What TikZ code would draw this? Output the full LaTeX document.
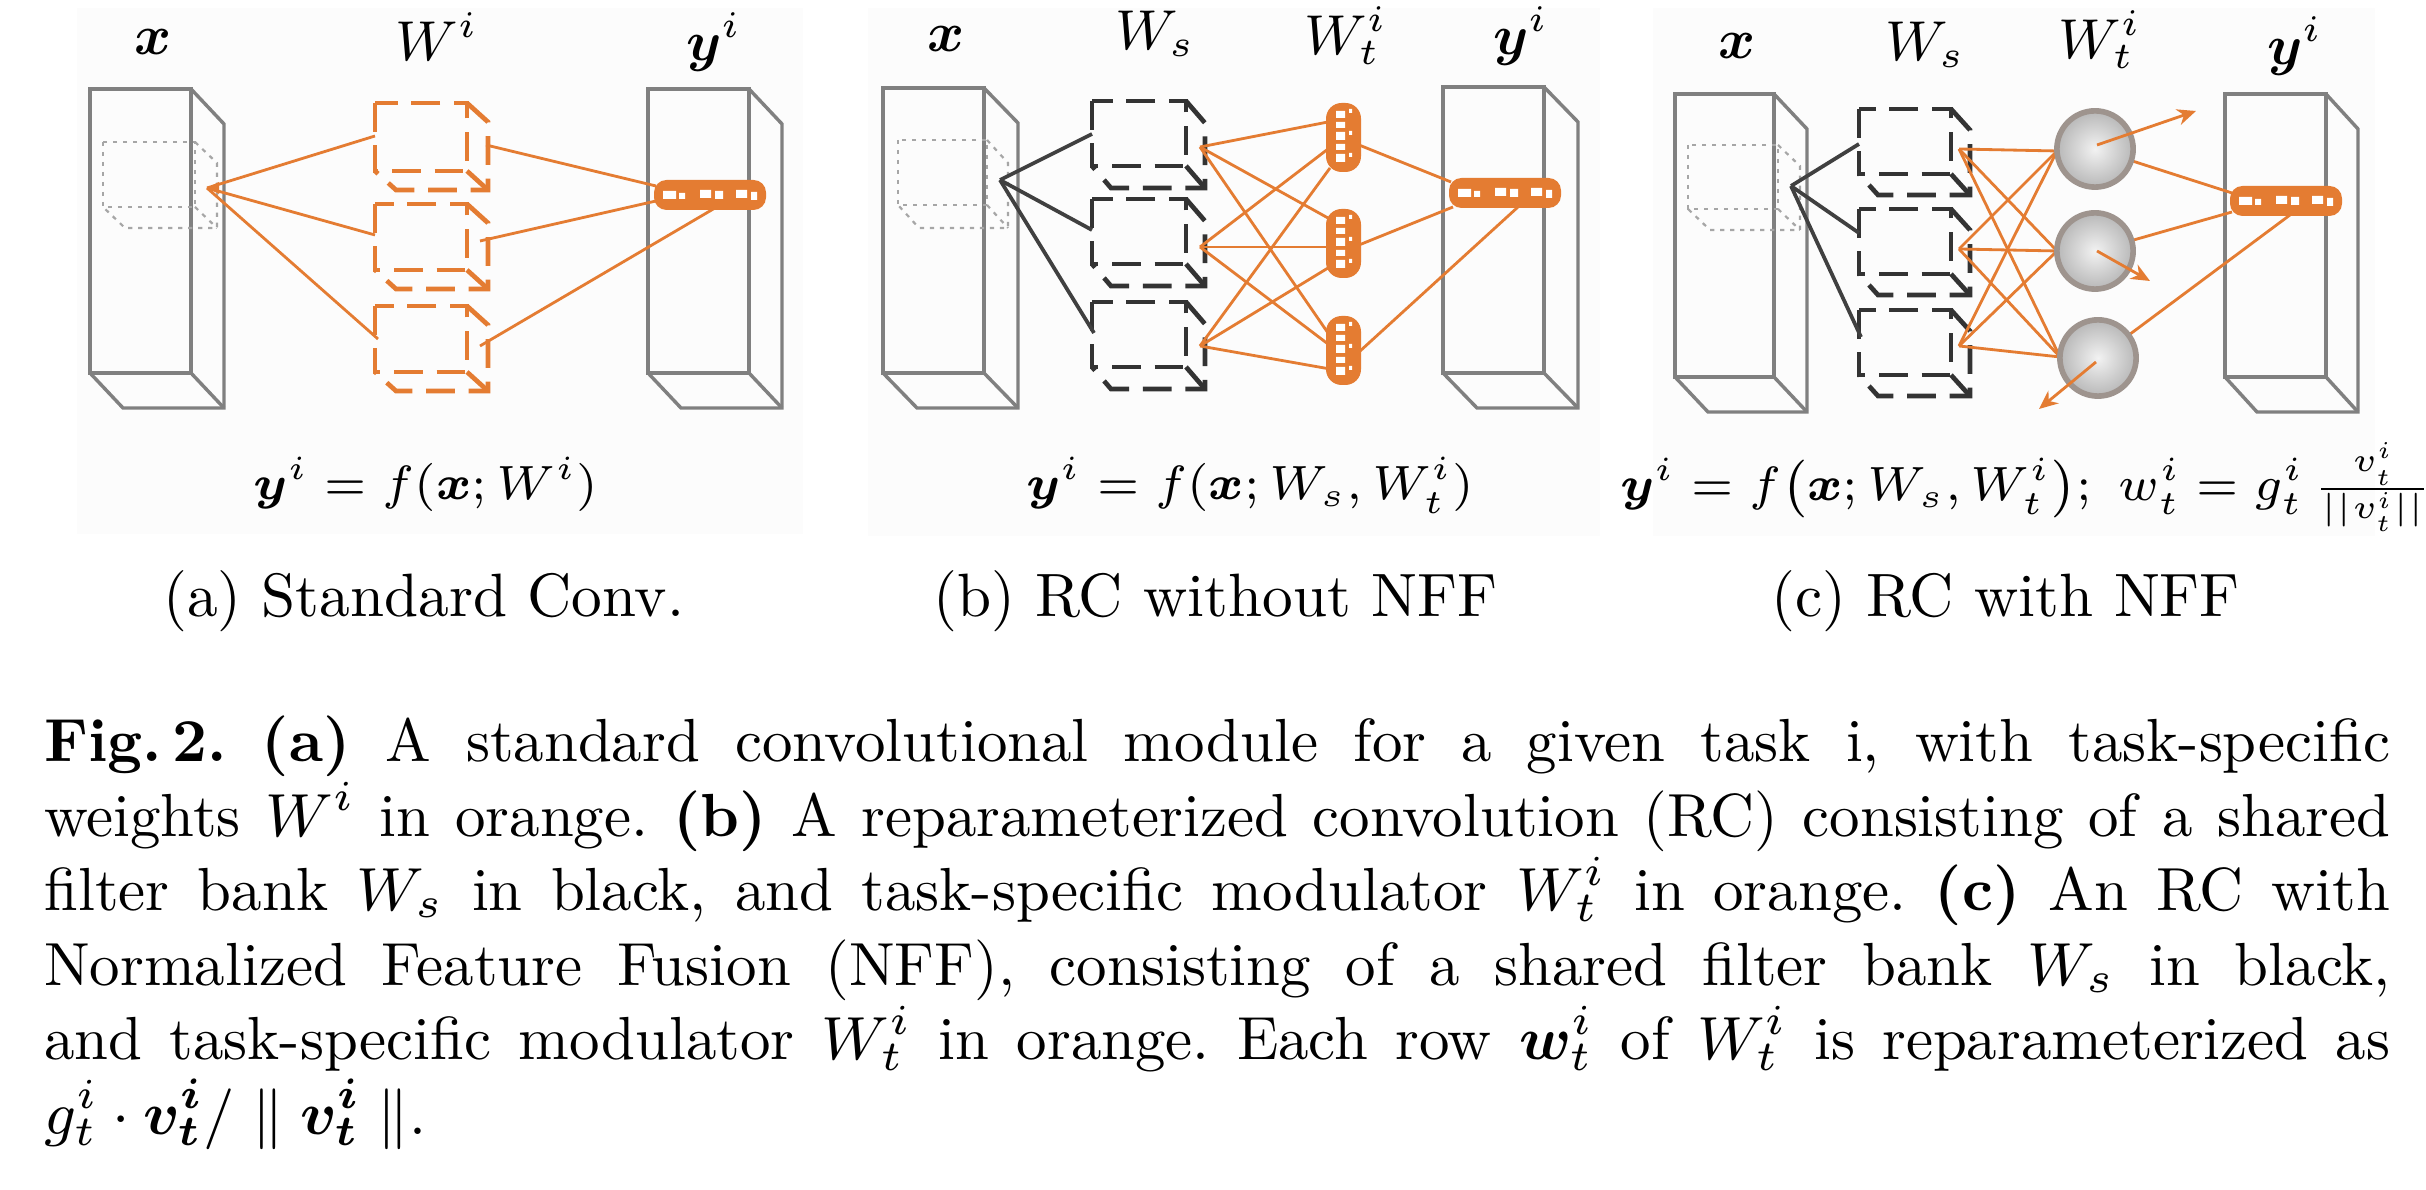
\RequirePackage{fix-cm}
\documentclass[tikz,border=0pt]{standalone}
\usepackage{amsmath}
\usepackage{bm}
\usetikzlibrary{arrows.meta}
\definecolor{ornge}{RGB}{228,124,50}
\definecolor{circedge}{RGB}{158,148,142}
\newcommand{\prismbox}[7]{%
  \draw[#1] (#2,#3) rectangle ++(#4,#5);
  \draw[#1] (#2,#3) ++(#4,0) -- ++(#6,#7) -- ++(0,#5) -- ++(-#4,0) -- ++(-#6,-#7);
  \draw[#1] (#2,#3) ++(#4,#5) -- ++(#6,#7);
}
\newcommand{\capline}[1]{\makebox[375.4pt][s]{\frenchspacing #1}}
\tikzset{
  hstrip/.pic={
    \fill[ornge, rounded corners=2pt] (0,0) rectangle (112,30);
    \fill[white] (9,11) rectangle (22,19) (25,13) rectangle (31,19)
                 (46,10) rectangle (57,18) (61,11) rectangle (69,19)
                 (82,10) rectangle (93,18) (97,12) rectangle (103,20);
  },
  vbar/.pic={
    \fill[ornge, rounded corners=2.5pt] (0,0) rectangle (35,69);
    \fill[white] (10,8) rectangle (19,15) (10,19) rectangle (19,25)
                 (10,29) rectangle (19,37) (10,41) rectangle (19,47)
                 (10,51) rectangle (19,59) (23,6) rectangle (26,10)
                 (23,28) rectangle (26,32) (23,50) rectangle (26,54);
  }
}
\begin{document}
\begin{tikzpicture}[x=0.16pt,y=-0.16pt,
  bigbox/.style={draw=black!50, line width=0.55pt},
  dotcube/.style={draw=black!35, line width=0.35pt, dash pattern=on 0.7pt off 0.9pt},
  odash/.style={draw=ornge, line width=0.75pt, dash pattern=on 4.6pt off 2.2pt},
  kdash/.style={draw=black!80, line width=0.75pt, dash pattern=on 4.6pt off 2.2pt},
  oline/.style={draw=ornge, line width=0.45pt},
  kline/.style={draw=black!75, line width=0.6pt},
  oarrow/.style={draw=ornge, line width=0.45pt, -{Stealth[length=3pt,width=2.6pt]}},
  circ/.style={circle, minimum size=12.2pt, inner sep=0pt, draw=circedge, line width=0.9pt,
     shading=radial, inner color=black!5, outer color=black!28},
  lab/.style={inner sep=0pt, anchor=base, font=\fontsize{9}{10}\selectfont},
  fml/.style={inner sep=0pt, anchor=base, font=\fontsize{7.7}{9}\selectfont},
  subcap/.style={inner sep=0pt, anchor=base west, font=\fontsize{9.8}{12}\selectfont},
  capl/.style={inner sep=0pt, anchor=base west}
]
\path[use as bounding box] (0,0) rectangle (2426,1190);
\fill[white] (0,0) rectangle (2426,1190);
% faint panel backgrounds
\fill[black!1.2] (77,8) rectangle (803,534);
\fill[black!1.2] (868,8) rectangle (1600,536);
\fill[black!1.2] (1653,8) rectangle (2375,536);

% ================= panel (a) =================
\prismbox{bigbox}{90}{89}{101}{284}{33}{35}
\prismbox{dotcube}{103}{142}{92}{65}{22}{21}
\prismbox{odash}{375}{103}{92}{68}{21}{19}
\prismbox{odash}{375}{204}{92}{66}{21}{19}
\prismbox{odash}{375}{306}{92}{66}{21}{19}
\prismbox{bigbox}{648}{89}{101}{284}{33}{35}
\coordinate (aA) at (207,188);
\coordinate (aW1i) at (375,136);
\coordinate (aW2i) at (375,235);
\coordinate (aW3i) at (378,339);
\coordinate (aW1o) at (486,145);
\coordinate (aW2o) at (480,241);
\coordinate (aW3o) at (480,346);
\coordinate (aS1) at (656,186);
\coordinate (aS2) at (656,201);
\coordinate (aS3) at (715,208);
\draw[oline] (aA) -- (aW1i);
\draw[oline] (aA) -- (aW2i);
\draw[oline] (aA) -- (aW3i);
\draw[oline] (aW1o) -- (aS1);
\draw[oline] (aW2o) -- (aS2);
\draw[oline] (aW3o) -- (aS3);
\fill[ornge] (aA) -- ++(12,-6) -- ++(0,12) -- cycle;
\pic at (654,180) {hstrip};
\node[lab] (ax) at (153,55) {$\bm{x}$};
\node[lab] (aW) at (437,61) {$W^i$};
\node[lab] (ay) at (714,61) {$\bm{y}^i$};
\node[fml] (af) at (426,500) {$\bm{y}^i = f(\bm{x}; W^i)$};

% ================= panel (b) =================
\prismbox{bigbox}{883}{88}{101}{285}{34}{35}
\prismbox{dotcube}{898}{140}{89}{65}{21}{23}
\prismbox{kdash}{1092}{101}{94}{65}{19}{22}
\prismbox{kdash}{1092}{199}{94}{65}{19}{22}
\prismbox{kdash}{1092}{302}{94}{65}{19}{22}
\prismbox{bigbox}{1443}{87}{101}{286}{34}{35}
\coordinate (bA) at (1000,180);
\coordinate (bW1i) at (1092,134);
\coordinate (bW2i) at (1092,230);
\coordinate (bW3i) at (1094,333);
\draw[kline] (bA) -- (bW1i);
\draw[kline] (bA) -- (bW2i);
\draw[kline] (bA) -- (bW3i);
\coordinate (bs1) at (1200,147);
\coordinate (bs2) at (1200,247);
\coordinate (bs3) at (1200,346);
\coordinate (bt11) at (1328,122);
\coordinate (bt21) at (1328,149);
\coordinate (bt31) at (1330,168);
\coordinate (bt12) at (1328,218);
\coordinate (bt22) at (1328,247);
\coordinate (bt32) at (1328,268);
\coordinate (bt13) at (1328,333);
\coordinate (bt23) at (1328,344);
\coordinate (bt33) at (1330,369);
\foreach \s in {1,2,3}{\foreach \t in {1,2,3}{\draw[oline] (bs\s) -- (bt\s\t);}}
\coordinate (bB1) at (1359,145);
\coordinate (bB2) at (1359,245);
\coordinate (bB3) at (1359,352);
\coordinate (bS1) at (1451,182);
\coordinate (bS2) at (1453,207);
\coordinate (bS3) at (1518,207);
\draw[oline] (bB1) -- (bS1);
\draw[oline] (bB2) -- (bS2);
\draw[oline] (bB3) -- (bS3);
\pic at (1326,103) {vbar};
\pic at (1326,209) {vbar};
\pic at (1326,316) {vbar};
\pic at (1449,178) {hstrip};
\node[lab] (bx) at (946,52) {$\bm{x}$};
\node[lab] (bWs) at (1155,50) {$W_s$};
\node[lab] (bWt) at (1346,55) {$W_t^i$};
\node[lab] (by) at (1521,55) {$\bm{y}^i$};
\node[fml] (bf) at (1250,500) {$\bm{y}^i = f(\bm{x}; W_s, W_t^i)$};

% ================= panel (c) =================
\prismbox{bigbox}{1675}{94}{99}{283}{33}{35}
\prismbox{dotcube}{1688}{145}{90}{64}{22}{21}
\prismbox{kdash}{1859}{109}{92}{65}{19}{21}
\prismbox{kdash}{1859}{209}{92}{65}{19}{21}
\prismbox{kdash}{1859}{310}{92}{65}{19}{21}
\prismbox{bigbox}{2225}{94}{101}{283}{32}{35}
\coordinate (cA) at (1791,186);
\coordinate (cW1i) at (1859,144);
\coordinate (cW2i) at (1859,233);
\coordinate (cW3i) at (1861,337);
\draw[kline] (cA) -- (cW1i);
\draw[kline] (cA) -- (cW2i);
\draw[kline] (cA) -- (cW3i);
\coordinate (cs1) at (1959,149);
\coordinate (cs2) at (1959,249);
\coordinate (cs3) at (1959,346);
\coordinate (cc1) at (2095,149);
\coordinate (cc2) at (2095,251);
\coordinate (cc3) at (2098,358);
\coordinate (ct1) at (2057,151);
\coordinate (ct2) at (2057,251);
\coordinate (ct3) at (2060,357);
\foreach \s in {1,2,3}{\foreach \t in {1,2,3}{\draw[oline] (cs\s) -- (ct\t);}}
\coordinate (cS1) at (2232,193);
\coordinate (cS2) at (2232,212);
\coordinate (cS3) at (2294,212);
\draw[oline] (cc1) -- (cS1);
\draw[oline] (cc2) -- (cS2);
\draw[oline] (cc3) -- (cS3);
\node[circ] (cn1) at (cc1) {};
\node[circ] (cn2) at (cc2) {};
\node[circ] (cn3) at (cc3) {};
\coordinate (cq1) at (2196,111);
\coordinate (cq2) at (2150,281);
\coordinate (cq3) at (2039,409);
\draw[oarrow] (2097,145) -- (cq1);
\draw[oarrow] (2097,251) -- (cq2);
\draw[oarrow] (2096,362) -- (cq3);
\pic at (2230,186) {hstrip};
\node[lab] (cx) at (1737,59) {$\bm{x}$};
\node[lab] (cWs) at (1925,61) {$W_s$};
\node[lab] (cWt) at (2100,59) {$W_t^i$};
\node[lab] (cy) at (2295,65) {$\bm{y}^i$};
\node[fml] (cf) at (2026,501) {$\bm{y}^i = f\bigl(\bm{x}; W_s, W_t^i\bigr);~ w_t^i = g_t^i\,\frac{v_t^i}{||v_t^i||}$};

% ================= sub captions =================
\node[subcap] (capa) at (162,617) {(a) Standard Conv.};
\node[subcap] (capb) at (932,617) {(b) RC without NFF};
\node[subcap] (capc) at (1770,617) {(c) RC with NFF};

% ================= caption =================
\node[capl] (caption) at (43,762) {\parbox[t]{375.4pt}{\fontsize{9.74}{11.92}\selectfont
  \lineskiplimit=-20pt\parindent=0pt
  \capline{\textbf{Fig.\,2.} \textbf{(a)} A standard convolutional module for a given task i, with task-specific}\\
  \capline{weights $W^i$ in orange. \textbf{(b)} A reparameterized convolution (RC) consisting of a shared}\\
  \capline{filter bank $W_s$ in black, and task-specific modulator $W_t^i$ in orange. \textbf{(c)} An RC with}\\
  \capline{Normalized Feature Fusion (NFF), consisting of a shared filter bank $W_s$ in black,}\\
  \capline{and task-specific modulator $W_t^i$ in orange. Each row $\bm{w}_t^i$ of $W_t^i$ is reparameterized as}\\
  $g_t^i \cdot \bm{v_t^i} / \parallel \bm{v_t^i} \parallel$.}};
\end{tikzpicture}
\end{document}
